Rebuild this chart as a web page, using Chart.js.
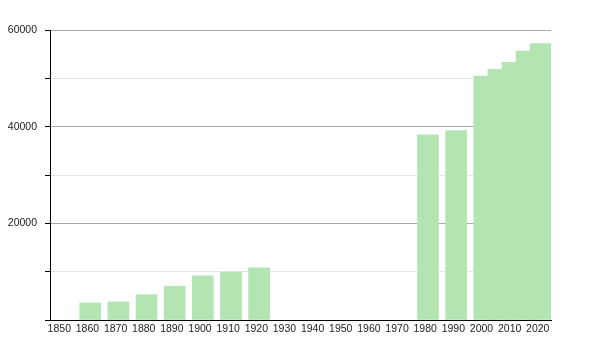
<!DOCTYPE html>
<html>
<head>
<meta charset="utf-8">
<script src="https://cdn.jsdelivr.net/npm/chart.js@4"></script>
<style>
  html, body { margin: 0; padding: 0; background: #fff; }
</style>
</head>
<body>
<canvas id="popChart" width="600" height="350"></canvas>
<script>
// census years and population
const years = [1861, 1871, 1881, 1891, 1901, 1911, 1921, 1981, 1991, 2001, 2006, 2011, 2016, 2021];
const population = [3530, 3730, 5250, 6990, 9130, 9890, 10780, 38300, 39200, 50450, 51850, 53300, 55640, 57200];

const xTickYears = [1850, 1860, 1870, 1880, 1890, 1900, 1910, 1920, 1930, 1940, 1950, 1960, 1970, 1980, 1990, 2000, 2010, 2020];
const yTickLabels = [20000, 40000, 60000];

const font = { family: "'Liberation Sans', Arial, sans-serif", size: 10.5 };

const canvas = document.getElementById("popChart");
new Chart(canvas.getContext("2d"), {
  type: "bar",
  data: {
    datasets: [{
      data: years.map((y, i) => ({ x: y, y: population[i] })),
      backgroundColor: "#b3e5b2",
      borderWidth: 0,
      barThickness: 21
    }]
  },
  options: {
    responsive: false,
    animation: false,
    layout: { padding: { top: 30, right: 49, left: 0, bottom: 0 } },
    plugins: { legend: { display: false }, tooltip: { enabled: false } },
    scales: {
      x: {
        type: "linear",
        min: 1846.7,
        max: 2024.7,
        offset: false,
        grid: { display: false, offset: false, drawTicks: false },
        border: { display: true, color: "#000", width: 1 },
        afterBuildTicks: s => { s.ticks = xTickYears.map(v => ({ value: v })); },
        afterFit: s => { s.height = 30; },
        ticks: {
          autoSkip: false, maxRotation: 0, padding: 3, color: "#222", font,
          callback: v => String(v)
        }
      },
      y: {
        min: 0,
        max: 60000,
        grid: {
          color: c => (c.tick && yTickLabels.includes(c.tick.value)) ? "#aaaaaa" : "#e4e4e4",
          tickColor: "#000",
          tickLength: 5
        },
        border: { display: true, color: "#000", width: 1 },
        afterFit: s => { s.width = 50; },
        ticks: {
          stepSize: 10000, padding: 8, color: "#222", font,
          callback: v => yTickLabels.includes(v) ? String(v) : ""
        }
      }
    }
  }
});
</script>
</body>
</html>
